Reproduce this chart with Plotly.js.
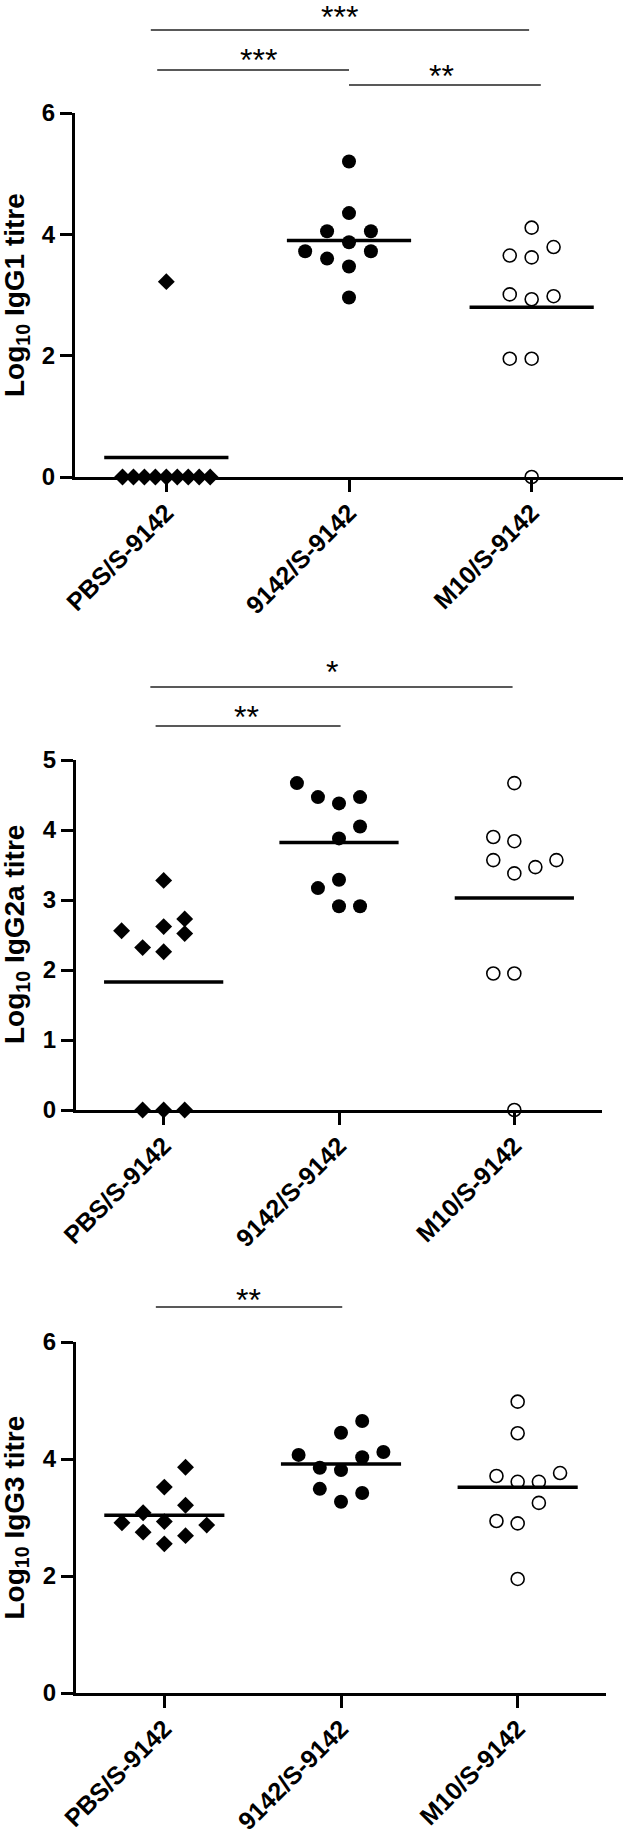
<!DOCTYPE html>
<html>
<head>
<meta charset="utf-8">
<script src="https://cdn.plot.ly/plotly-3.0.1.min.js"></script>
<style>
    body { margin: 0; background: #fff; }
    #chart { width: 625px; height: 1836px; }
</style>
</head>
<body>
<div id="chart"></div>
<script>
// ===== Data =====
const categories = ['PBS/S-9142', '9142/S-9142', 'M10/S-9142'];

// IgG1
const igg1Pbs      = [3.22, 0, 0, 0, 0, 0, 0, 0, 0, 0];
const igg1PbsSlot  = [0, -2, -1.5, -1, -0.5, 0, 0.5, 1, 1.5, 2];
const igg1Vac      = [5.2, 4.35, 4.05, 4.05, 3.87, 3.72, 3.72, 3.6, 3.47, 2.96];
const igg1VacSlot  = [0, 0, -1, 1, 0, -2, 1, -1, 0, 0];
const igg1M10      = [4.11, 3.79, 3.65, 3.62, 3.01, 2.98, 2.93, 1.95, 1.95, 0];
const igg1M10Slot  = [0, 1, -1, 0, -1, 1, 0, -1, 0, 0];

// IgG2a
const igg2aPbs     = [3.28, 2.56, 2.62, 2.73, 2.52, 2.32, 2.26, 0, 0, 0];
const igg2aPbsSlot = [0, -2, 0, 1, 1, -1, 0, -1, 0, 1];
const igg2aVac     = [4.67, 4.47, 4.38, 4.47, 4.05, 3.88, 3.17, 3.29, 2.91, 2.91];
const igg2aVacSlot = [-2, -1, 0, 1, 1, 0, -1, 0, 0, 1];
const igg2aM10     = [4.67, 3.9, 3.84, 3.57, 3.38, 3.47, 3.57, 1.95, 1.95, 0];
const igg2aM10Slot = [0, -1, 0, -1, 0, 1, 2, -1, 0, 0];

// IgG3
const igg3Pbs      = [3.86, 3.52, 3.21, 3.08, 2.91, 2.93, 2.87, 2.75, 2.69, 2.55];
const igg3PbsSlot  = [1, 0, 1, -1, -2, 0, 2, -1, 1, 0];
const igg3Vac      = [4.65, 4.45, 4.07, 4.12, 4.03, 3.85, 3.81, 3.49, 3.42, 3.27];
const igg3VacSlot  = [1, 0, -2, 2, 1, -1, 0, -1, 1, 0];
const igg3M10      = [4.98, 4.44, 3.71, 3.61, 3.61, 3.76, 3.25, 2.94, 2.9, 1.95];
const igg3M10Slot  = [0, 0, -1, 0, 1, 2, 1, -1, 0, 0];

const yTitles = ['Log<sub>10</sub> IgG1 titre', 'Log<sub>10</sub> IgG2a titre', 'Log<sub>10</sub> IgG3 titre'];

// ===== Layout helpers =====
const W = 625, H = 1836;
const SLOT = 0.12;       // horizontal spacing of scattered points (category units)
const HALF_MEAN = 0.34;  // half width of the mean bar
const FONT = 'Liberation Sans, Arial, sans-serif';
const fy = p => 1 - p / H;
const fx = p => p / W;

// pixel boxes of the three plot areas
const panels = [
    { left: 75, right: 623, top: 113, bottom: 477, ymax: 6, dtick: 2,
      groups: [[igg1Pbs, igg1PbsSlot], [igg1Vac, igg1VacSlot], [igg1M10, igg1M10Slot]],
      brackets: [
          { x0: -0.085, x1: 1.986, y: 30, text: '***', tx: 0.95, ty: 17 },
          { x0: -0.05, x1: 1.0, y: 70, text: '***', tx: 0.505, ty: 60 },
          { x0: 1.0, x1: 2.05, y: 85, text: '**', tx: 1.505, ty: 76 }
      ] },
    { left: 76, right: 602, top: 760, bottom: 1110, ymax: 5, dtick: 1,
      groups: [[igg2aPbs, igg2aPbsSlot], [igg2aVac, igg2aVacSlot], [igg2aM10, igg2aM10Slot]],
      brackets: [
          { x0: -0.076, x1: 1.99, y: 687, text: '*', tx: 0.96, ty: 672 },
          { x0: -0.046, x1: 1.009, y: 726, text: '**', tx: 0.47, ty: 717 }
      ] },
    { left: 76, right: 606, top: 1342, bottom: 1693, ymax: 6, dtick: 2,
      groups: [[igg3Pbs, igg3PbsSlot], [igg3Vac, igg3VacSlot], [igg3M10, igg3M10Slot]],
      brackets: [
          { x0: -0.048, x1: 1.007, y: 1307, text: '**', tx: 0.476, ty: 1300 }
      ] }
];

const markerStyles = [
    { symbol: 'diamond', size: 13, color: '#000', line: { width: 0 } },
    { symbol: 'circle', size: 14, color: '#000', line: { width: 0 } },
    { symbol: 'circle-open', size: 13, color: '#000', line: { width: 1.6, color: '#000' } }
];

const traces = [];
const layout = {
    width: W,
    height: H,
    margin: { l: 0, r: 0, t: 0, b: 0 },
    paper_bgcolor: 'white',
    plot_bgcolor: 'white',
    showlegend: false,
    font: { family: FONT, color: '#000' },
    shapes: [],
    annotations: []
};

panels.forEach((p, i) => {
    const n = i === 0 ? '' : String(i + 1);
    const xa = 'x' + n, ya = 'y' + n;

    p.groups.forEach(([vals, slots], g) => {
        // individual animals
        traces.push({
            type: 'scatter', mode: 'markers', xaxis: xa, yaxis: ya,
            x: slots.map(s => g + s * SLOT),
            y: vals,
            marker: markerStyles[g],
            cliponaxis: false,
            hoverinfo: 'y'
        });
    });

    p.groups.forEach(([vals], g) => {
        // group mean bar
        const mean = vals.reduce((a, b) => a + b, 0) / vals.length;
        traces.push({
            type: 'scatter', mode: 'lines', xaxis: xa, yaxis: ya,
            x: [g - HALF_MEAN, g + HALF_MEAN],
            y: [mean, mean],
            line: { color: '#000', width: 3.5 },
            cliponaxis: false,
            hoverinfo: 'skip'
        });
    });

    layout['xaxis' + n] = {
        domain: [fx(p.left), fx(p.right)],
        anchor: ya,
        range: [-0.5, 2.5],
        tickvals: [0, 1, 2],
        ticktext: categories,
        tickangle: -45,
        ticklabelstandoff: -4,
        ticks: 'outside', ticklen: 12, tickwidth: 3, tickcolor: '#000',
        showline: true, linewidth: 3, linecolor: '#000',
        showgrid: false, zeroline: false,
        tickfont: { family: FONT, size: 25, weight: 'bold', color: '#000' },
        fixedrange: true
    };
    layout['yaxis' + n] = {
        domain: [fy(p.bottom), fy(p.top)],
        anchor: xa,
        range: [0, p.ymax],
        dtick: p.dtick,
        tick0: 0,
        ticks: 'outside', ticklen: 12, tickwidth: 3, tickcolor: '#000',
        showline: true, linewidth: 3, linecolor: '#000',
        showgrid: false, zeroline: false,
        tickfont: { family: FONT, size: 24, weight: 'bold', color: '#000' },
        fixedrange: true
    };

    // y-axis title
    layout.annotations.push({
        xref: 'paper', yref: 'paper',
        x: fx(16), y: fy((p.top + p.bottom) / 2),
        xanchor: 'center', yanchor: 'middle',
        textangle: -90,
        text: yTitles[i],
        showarrow: false,
        font: { family: FONT, size: 28, weight: 'bold', color: '#000' }
    });

    // significance bars
    p.brackets.forEach(b => {
        layout.shapes.push({
            type: 'line', xref: xa, yref: 'paper',
            x0: b.x0, x1: b.x1, y0: fy(b.y), y1: fy(b.y),
            line: { color: '#222', width: 1.5 }
        });
        layout.annotations.push({
            xref: xa, yref: 'paper',
            x: b.tx, y: fy(b.ty),
            xanchor: 'center', yanchor: 'middle',
            text: b.text,
            showarrow: false,
            font: { family: FONT, size: 32, color: '#000' }
        });
    });
});

Plotly.newPlot('chart', traces, layout, { displayModeBar: false, staticPlot: true });
</script>
</body>
</html>
